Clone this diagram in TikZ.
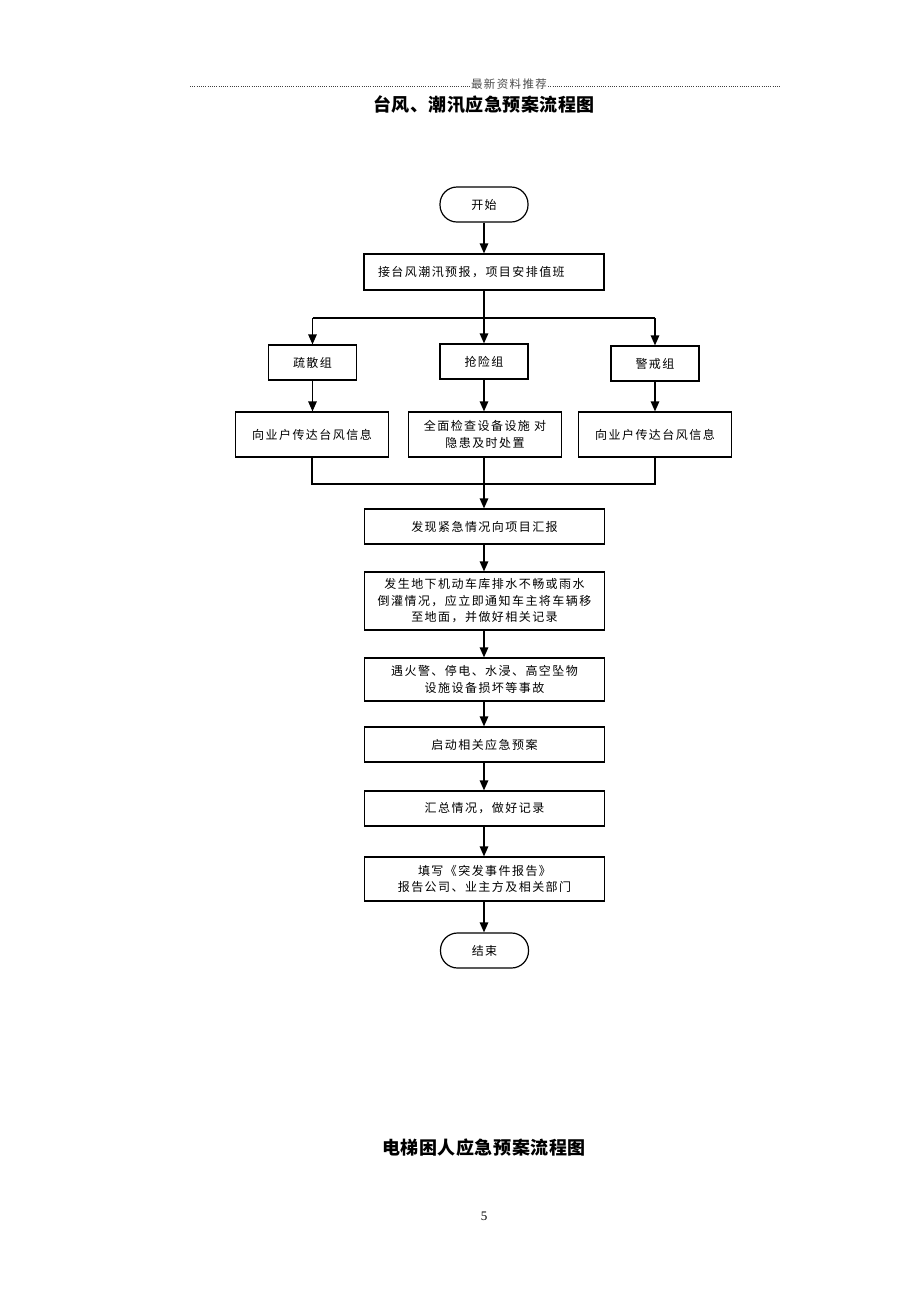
\documentclass[tikz,border=0pt]{standalone}
\usepackage{fontspec}
\setmainfont{Liberation Serif}
\newfontfamily\cjk[LetterSpace=12]{Noto Sans CJK SC}
\newfontfamily\cjkt[LetterSpace=3]{Noto Sans CJK SC}
\usetikzlibrary{arrows.meta}
\begin{document}
\begin{tikzpicture}[x=1pt,y=-1pt,
  box/.style={draw,line width=1.2pt,inner sep=0pt,align=center,font=\cjk\fontsize{12}{16.5}\selectfont},
  pill/.style={box,rounded corners=17pt,minimum width=88pt,minimum height=35pt},
  wide/.style={box,minimum width=240pt},
  grp/.style={box,minimum width=88pt,minimum height=35pt},
  sub/.style={box,minimum width=153pt,minimum height=45pt},
  arr/.style={line width=1.3pt,-{Triangle[length=10pt,width=8.5pt]}},
  ln/.style={line width=1.3pt}]
\useasboundingbox (0,0) rectangle (920,1302);
\fill[white] (0,0) rectangle (920,1302);
% header
\node[font=\cjk\fontsize{11.5}{11.5}\selectfont,text=black!70,inner sep=1pt] (hdr) at (509,84) {最新资料推荐};
\coordinate (hl) at (190,86);
\coordinate (hr) at (780,86);
\draw[black!75,line width=1pt,dash pattern=on 1pt off 1.2pt] (hl) -- (hdr.west |- hl);
\draw[black!75,line width=1pt,dash pattern=on 1pt off 1.2pt] (hdr.east |- hr) -- (hr);
\node[font=\cjkt\bfseries\fontsize{18}{18}\selectfont] (title) at (484,105) {台风、潮汛应急预案流程图};
% flow
\node[pill] (start) at (484,204.5) {开始};
\node[wide,minimum height=36pt,align=left,text width=212pt] (b1) at (484,272) {接台风潮汛预报，项目安排值班};
\node[grp] (g1) at (312.5,362.5) {疏散组};
\node[grp] (g2) at (484,361.5) {抢险组};
\node[grp] (g3) at (655,363.5) {警戒组};
\node[sub] (r1) at (312,434.5) {向业户传达台风信息};
\node[sub] (r2) at (485,434.5) {全面检查设备设施 对\\隐患及时处置};
\node[sub] (r3) at (655,434.5) {向业户传达台风信息};
\node[wide,minimum height=35pt] (c1) at (484.5,526.5) {发现紧急情况向项目汇报};
\node[wide,minimum height=58pt] (c2) at (484.5,601) {发生地下机动车库排水不畅或雨水\\倒灌情况，应立即通知车主将车辆移\\至地面，并做好相关记录};
\node[wide,minimum height=43pt] (c3) at (484.5,679.5) {遇火警、停电、水浸、高空坠物\\设施设备损坏等事故};
\node[wide,minimum height=35pt] (c4) at (484.5,744.5) {启动相关应急预案};
\node[wide,minimum height=35pt] (c5) at (484.5,808.5) {汇总情况，做好记录};
\node[wide,minimum height=44pt] (c6) at (484.5,879) {填写《突发事件报告》\\报告公司、业主方及相关部门};
\node[pill] (end) at (484.5,950.5) {结束};
\node[font=\cjkt\bfseries\fontsize{18}{18}\selectfont] (title2) at (484,1148) {电梯困人应急预案流程图};
\node[font=\fontsize{13}{13}\selectfont] (pg) at (484,1216) {5};
% connectors
\coordinate (sp) at (484,318);
\coordinate (mg) at (484,484);
\draw[arr] (start) -- (b1);
\draw[arr] (b1.south -| start) -- (g2.north);
\draw[ln] (g1.north |- sp) -- (g3.north |- sp);
\draw[arr] (g1.north |- sp) -- (g1.north);
\draw[arr] (g3.north |- sp) -- (g3.north);
\draw[arr] (g1) -- (r1.north -| g1);
\draw[arr] (g2) -- (r2.north -| g2);
\draw[arr] (g3) -- (r3);
\draw[ln] (r1.south) -- (r1.south |- mg) -- (r3.south |- mg) -- (r3.south);
\draw[arr] (r2.south -| mg) -- (c1.north -| mg);
\draw[arr] (c1.south -| mg) -- (c2.north -| mg);
\draw[arr] (c2.south -| mg) -- (c3.north -| mg);
\draw[arr] (c3.south -| mg) -- (c4.north -| mg);
\draw[arr] (c4.south -| mg) -- (c5.north -| mg);
\draw[arr] (c5.south -| mg) -- (c6.north -| mg);
\draw[arr] (c6.south -| mg) -- (end.north -| mg);
\end{tikzpicture}
\end{document}
